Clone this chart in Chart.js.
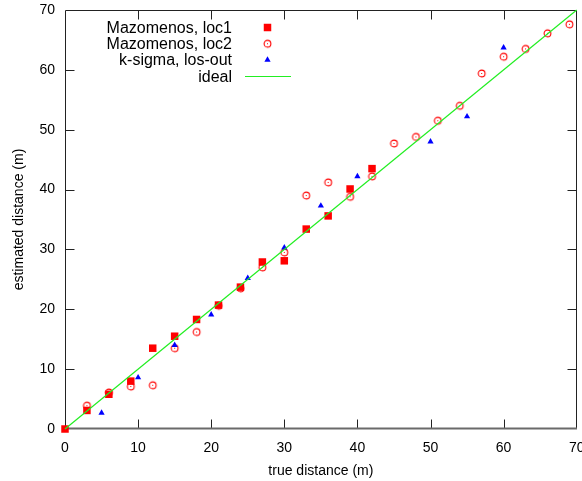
<!DOCTYPE html>
<html lang="en">
<head>
  <meta charset="UTF-8" />
  <title>Estimated vs true distance</title>
  <script src="https://cdn.jsdelivr.net/npm/chart.js"></script>
  <style>
    html, body { margin: 0; padding: 0; background: #fff; }
  </style>
</head>
<body>
  <canvas id="distChart" width="582" height="481"></canvas>

  <script>
    // values
    const loc1True = [0, 3, 6, 9, 12, 15, 18, 21, 24, 27, 30, 33, 36, 39, 42];
    const loc1Est  = [0, 3.1, 5.8, 8.0, 13.5, 15.5, 18.3, 20.7, 23.7, 27.9, 28.1, 33.4, 35.6, 40.1, 43.5];

    const loc2True = [3, 6, 9, 12, 15, 18, 21, 24, 27, 30, 33, 36, 39, 42, 45, 48, 51, 54, 57, 60, 63, 66, 69];
    const loc2Est  = [3.9, 6.1, 7.1, 7.3, 13.5, 16.2, 20.6, 23.5, 27.0, 29.5, 39.0, 41.2, 38.8, 42.2, 47.7, 48.8, 51.5, 54.0, 59.4, 62.2, 63.5, 66.1, 67.6];

    const ksigTrue = [5, 10, 15, 20, 25, 30, 35, 40, 50, 55, 60];
    const ksigEst  = [2.7, 8.6, 14.0, 19.1, 25.2, 30.3, 37.3, 42.2, 48.0, 52.2, 63.7];

    const idealTrue = [0, 70];
    const idealEst  = [0, 70];

    const tickValues = [0, 10, 20, 30, 40, 50, 60, 70];

    const FONT = '"Liberation Sans", Arial, sans-serif';
    const pts = (xs, ys) => xs.map((x, i) => ({ x: x, y: ys[i] }));

    // hollow circle with a dot in the middle
    function circleDot(color) {
      const c = document.createElement('canvas');
      c.width = 11; c.height = 11;
      const g = c.getContext('2d');
      g.strokeStyle = color;
      g.lineWidth = 1.1;
      g.beginPath();
      g.arc(5.5, 5.5, 3.4, 0, Math.PI * 2);
      g.stroke();
      g.fillStyle = color;
      g.fillRect(5, 5, 1, 1);
      return c;
    }
    const circleMark = circleDot('#ff0000');

    const framePlugin = {
      id: 'frame',
      beforeDatasetsDraw(chart) {
        const { ctx, chartArea: a, scales: { x, y } } = chart;
        const L = Math.round(a.left) + 0.5, R = Math.round(a.right) - 0.5;
        const T = Math.round(a.top) + 0.5, B = Math.round(a.bottom) - 0.5;
        const len = 9;
        ctx.save();
        ctx.strokeStyle = '#222';
        ctx.lineWidth = 1;
        ctx.beginPath();
        ctx.moveTo(L, B); ctx.lineTo(L, T); ctx.lineTo(R, T); ctx.lineTo(R, B);
        tickValues.forEach(v => {
          if (v === 0 || v === 70) return;
          const px = Math.round(x.getPixelForValue(v)) + 0.5;
          ctx.moveTo(px, B); ctx.lineTo(px, B - len);
          ctx.moveTo(px, T); ctx.lineTo(px, T + len);
          const py = Math.round(y.getPixelForValue(v)) + 0.5;
          ctx.moveTo(L, py); ctx.lineTo(L + len, py);
          ctx.moveTo(R, py); ctx.lineTo(R - len, py);
        });
        ctx.stroke();
        ctx.strokeStyle = '#6a6a6a';
        ctx.lineWidth = 2;
        ctx.beginPath();
        ctx.moveTo(L - 0.5, B); ctx.lineTo(R + 0.5, B);
        ctx.stroke();
        ctx.restore();
      }
    };

    const keyPlugin = {
      id: 'key',
      afterDatasetsDraw(chart) {
        const { ctx, chartArea: a } = chart;
        const textRight = a.left + 167;
        const markX = a.left + 202.5;
        const rowY = i => a.top + 17.5 + i * 16.2;
        ctx.save();
        ctx.font = '16px ' + FONT;
        ctx.fillStyle = '#000';
        ctx.textAlign = 'right';
        ctx.textBaseline = 'middle';
        chart.data.datasets.forEach(ds => {
          const i = ds.keyRow;
          ctx.fillText(ds.label, textRight, rowY(i) + 1);
          if (ds.showLine) {
            ctx.strokeStyle = ds.borderColor;
            ctx.lineWidth = ds.borderWidth;
            ctx.beginPath();
            ctx.moveTo(a.left + 180, Math.round(rowY(i)) + 0.5);
            ctx.lineTo(a.left + 226, Math.round(rowY(i)) + 0.5);
            ctx.stroke();
          } else {
            ctx.fillStyle = ds.backgroundColor;
            ctx.strokeStyle = ds.borderColor;
            Chart.helpers.drawPoint(ctx, {
              pointStyle: ds.pointStyle, radius: ds.pointRadius,
              rotation: 0, borderWidth: ds.borderWidth || 0
            }, markX, rowY(i));
            ctx.fillStyle = '#000';
          }
        });
        ctx.restore();
      }
    };

    new Chart(document.getElementById('distChart'), {
      type: 'scatter',
      data: {
        datasets: [
          {
            label: 'ideal', keyRow: 3, order: 0,
            data: pts(idealTrue, idealEst),
            showLine: true, borderColor: '#22ee22', borderWidth: 1.2,
            pointRadius: 0
          },
          {
            label: 'k-sigma, los-out', keyRow: 2, order: 1,
            data: pts(ksigTrue, ksigEst),
            pointStyle: 'triangle', pointRadius: 3.6,
            backgroundColor: '#0000ff', borderColor: '#0000ff', borderWidth: 0
          },
          {
            label: 'Mazomenos, loc2', keyRow: 1, order: 2,
            data: pts(loc2True, loc2Est),
            pointStyle: circleMark, pointRadius: 4,
            backgroundColor: '#ff0000', borderColor: '#ff0000', borderWidth: 0
          },
          {
            label: 'Mazomenos, loc1', keyRow: 0, order: 3,
            data: pts(loc1True, loc1Est),
            pointStyle: 'rect', pointRadius: 5.3,
            backgroundColor: '#ff0000', borderColor: '#ff0000', borderWidth: 0
          }
        ]
      },
      options: {
        responsive: false,
        animation: false,
        clip: false,
        layout: { padding: { top: 10, right: 4, left: 0, bottom: 0 } },
        plugins: { legend: { display: false }, tooltip: { enabled: false } },
        scales: {
          x: {
            type: 'linear', min: 0, max: 70,
            afterBuildTicks: s => { s.ticks = tickValues.map(v => ({ value: v })); },
            afterFit: s => { s.height = 52; s.paddingLeft = 0; s.paddingRight = 0; },
            grid: { display: false, drawTicks: false },
            border: { display: false },
            ticks: { padding: 11, color: '#000', font: { family: FONT, size: 14 } },
            title: {
              display: true, text: 'true distance (m)', color: '#000',
              font: { family: FONT, size: 14 }, padding: { top: 0, bottom: 1 }
            }
          },
          y: {
            type: 'linear', min: 0, max: 70,
            afterBuildTicks: s => { s.ticks = tickValues.map(v => ({ value: v })); },
            afterFit: s => { s.width = 65; s.paddingTop = 0; s.paddingBottom = 0; },
            grid: { display: false, drawTicks: false },
            border: { display: false },
            ticks: { padding: 10, color: '#000', font: { family: FONT, size: 14 } },
            title: {
              display: true, text: 'estimated distance (m)', color: '#000',
              font: { family: FONT, size: 14 }, padding: { top: 11, bottom: 0 }
            }
          }
        }
      },
      plugins: [framePlugin, keyPlugin]
    });
  </script>
</body>
</html>
